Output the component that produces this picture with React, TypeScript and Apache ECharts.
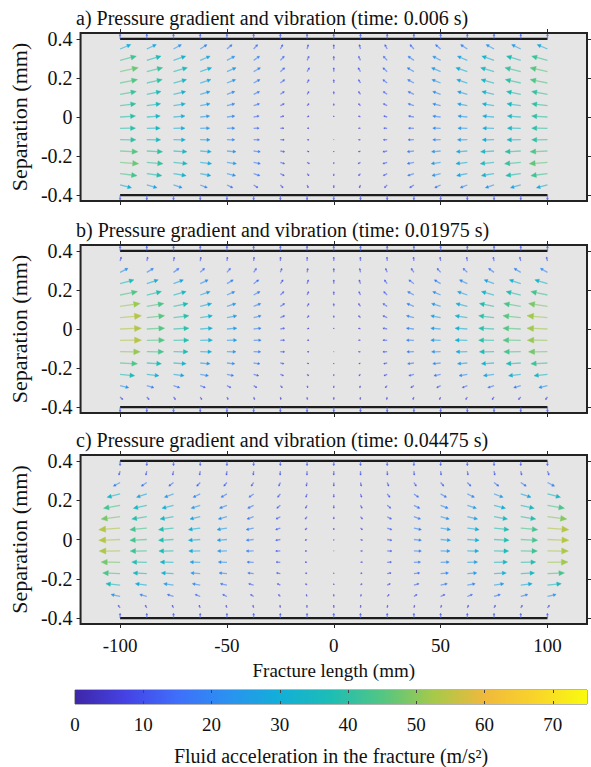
import React, { useEffect, useRef } from "react";
import * as echarts from "echarts";

// ---------------- data ----------------
const X_COLS = [-100, -87.5, -75, -62.5, -50, -37.5, -25, -12.5, 0, 12.5, 25, 37.5, 50, 62.5, 75, 87.5, 100];
const Y_ROWS = [0.348, 0.29, 0.232, 0.174, 0.116, 0.058, 0, -0.058, -0.116, -0.174, -0.232, -0.29, -0.348];
const WALL_Y = [0.4, -0.4];
const WALL_X = [-100, 100];
const X_TICKS = [-100, -50, 0, 50, 100];
const Y_TICKS = [-0.4, -0.2, 0, 0.2, 0.4];
const CB_TICKS = [0, 10, 20, 30, 40, 50, 60, 70];
const CB_MIN = 0;
const CB_MAX = 75;

const TITLE_A = "a) Pressure gradient and vibration (time: 0.006 s)";
const TITLE_B = "b) Pressure gradient and vibration (time: 0.01975 s)";
const TITLE_C = "c) Pressure gradient and vibration (time: 0.04475 s)";
const X_NAME = "Fracture length (mm)";
const Y_NAME = "Separation (mm)";
const CB_NAME = "Fluid acceleration in the fracture (m/s²)";

// horizontal acceleration (m/s^2), rows top -> bottom, columns left -> right
const U_A = [
  [27, 24, 20, 17, 13, 10, 6, 3, 0, -3, -6, -10, -13, -17, -20, -23, -26],
  [41, 36, 31, 25, 20, 15, 10, 5, 0, -5, -10, -15, -20, -25, -31, -36, -40],
  [46, 40, 35, 29, 23, 17, 11, 6, 0, -6, -11, -17, -23, -29, -34, -40, -44],
  [44, 39, 33, 27, 22, 16, 11, 5, 0, -5, -11, -16, -22, -27, -33, -39, -44],
  [41, 36, 31, 25, 20, 15, 10, 5, 0, -5, -10, -15, -20, -25, -31, -36, -40],
  [40, 35, 30, 25, 20, 15, 10, 5, 0, -5, -10, -15, -20, -25, -30, -35, -40],
  [39, 34, 29, 24, 20, 14, 9, 5, 0, -5, -9, -14, -20, -24, -29, -34, -40],
  [39, 34, 29, 24, 20, 14, 9, 5, 0, -5, -9, -14, -20, -24, -29, -34, -40],
  [40, 35, 30, 25, 20, 15, 10, 5, 0, -5, -10, -15, -20, -25, -30, -35, -40],
  [45, 40, 34, 28, 23, 17, 11, 5, 0, -5, -11, -17, -23, -28, -34, -40, -44],
  [47, 41, 35, 29, 24, 17, 11, 6, 0, -6, -11, -17, -24, -29, -35, -41, -46],
  [43, 38, 32, 27, 22, 16, 10, 5, 0, -5, -10, -16, -22, -27, -32, -38, -42],
  [29, 26, 22, 18, 15, 11, 7, 3, 0, -3, -7, -11, -15, -18, -22, -26, -28],
];
const V_A = [11, 10.5, 10, 8.5, 7, 5, 2.5, 0.5, -0.5, -2, -3.5, -5, -7];
const WALL_V_A = [12, -12];

const U_B = [
  [3, 2.5, 2, 1.7, 1.4, 1.1, 0.6, 0.3, 0, -0.3, -0.6, -1.1, -1.4, -1.7, -2, -2.5, -2.5],
  [20, 17, 14, 11, 9, 7, 4, 2, 0, -2, -4, -7, -9, -11, -14, -17, -18],
  [35, 29, 25, 20, 16, 13, 7, 3.5, 0, -3.5, -7, -13, -16, -20, -25, -29, -32],
  [44, 37, 32, 25, 20, 16, 9, 4, 0, -4, -9, -16, -20, -25, -32, -37, -42],
  [51, 43, 37, 29, 23, 18, 11, 5, 0, -5, -11, -18, -23, -29, -37, -43, -48],
  [54, 45, 39, 31, 25, 19, 11, 5, 0, -5, -11, -19, -25, -31, -39, -45, -52],
  [54, 45, 39, 31, 25, 19, 11, 5, 0, -5, -11, -19, -25, -31, -39, -45, -52],
  [54, 45, 39, 31, 25, 19, 11, 5, 0, -5, -11, -19, -25, -31, -39, -45, -51],
  [51, 43, 37, 29, 23, 18, 11, 5, 0, -5, -11, -18, -23, -29, -37, -43, -48],
  [44, 37, 32, 25, 20, 16, 9, 4, 0, -4, -9, -16, -20, -25, -32, -37, -42],
  [37, 31, 27, 21, 17, 13, 8, 4, 0, -4, -8, -13, -17, -21, -27, -31, -34],
  [22, 18, 16, 13, 10, 8, 5, 2, 0, -2, -5, -8, -10, -13, -16, -18, -22],
  [7, 6, 5, 4, 3, 2.5, 1.5, 0.7, 0, -0.7, -1.5, -2.5, -3, -4, -5, -6, -5],
];
const V_B = [10, 10, 9.5, 8.5, 7, 5, 2, 0.5, -0.5, -2, -3.5, -5, -6.5];
const WALL_V_B = [12, -12];

const U_C = [
  [-3, -2.4, -2.1, -1.7, -1.4, -1, -0.7, -0.3, 0, 0.3, 0.7, 1, 1.4, 1.7, 2.1, 2.4, 4],
  [-17, -14, -12, -9, -8, -6, -4, -2, 0, 2, 4, 6, 8, 9, 12, 14, 18],
  [-33, -26, -23, -18, -15, -12, -7, -3, 0, 3, 7, 12, 15, 18, 23, 26, 33],
  [-42, -34, -29, -23, -19, -15, -9, -4, 0, 4, 9, 15, 19, 23, 29, 34, 43],
  [-48, -38, -34, -26, -22, -17, -11, -5, 0, 5, 11, 17, 22, 26, 34, 38, 49],
  [-54, -43, -38, -30, -25, -19, -12, -5, 0, 5, 12, 19, 25, 30, 38, 43, 54],
  [-54, -43, -38, -30, -25, -19, -12, -5, 0, 5, 12, 19, 25, 30, 38, 43, 54],
  [-53, -42, -37, -29, -24, -19, -12, -5, 0, 5, 12, 19, 24, 29, 37, 42, 53],
  [-48, -38, -34, -26, -22, -17, -11, -5, 0, 5, 11, 17, 22, 26, 34, 38, 52],
  [-44, -35, -31, -24, -20, -15, -10, -4, 0, 4, 10, 15, 20, 24, 31, 35, 43],
  [-36, -29, -25, -20, -17, -13, -8, -4, 0, 4, 8, 13, 17, 20, 25, 29, 35],
  [-23, -18, -16, -13, -11, -8, -5, -2, 0, 2, 5, 8, 11, 13, 16, 18, 22],
  [-5, -4, -3.5, -3, -2.3, -1.8, -1.1, -0.5, 0, 0.5, 1.1, 1.8, 2.3, 3, 3.5, 4, 5],
];
const V_C = [-10, -9, -8.5, -7.5, -6, -4, -2, -0.5, 0.5, 2, 3.5, 5, 6.5];
const WALL_V_C = [-12, 12];

// parula-like colormap stops (evenly spaced from CB_MIN to CB_MAX)
const PARULA = [
  "#3e26a8", "#4543e5", "#3f6ffb", "#2a92f0", "#12afd8", "#1dbdb5",
  "#53c683", "#a6c94a", "#f0b93c", "#f9d42a", "#f9fb0e",
];

// ---------------- helpers ----------------
const FONT = '"Liberation Serif", "Times New Roman", Times, serif';
const TEXT = "#111111";
const FS_X = 19;
const FS_TITLE = 20;
const FS_Y = 20;
const FS_YNAME = 22;
const FS_CB = 19;
const FS_CBNAME = 20;
const QX = 0.185; // quiver scale, mm of x per m/s^2
const QY = 0.00205; // quiver scale, mm of y per m/s^2

function hexToRgb(h: string) {
  const n = parseInt(h.slice(1), 16);
  return [(n >> 16) & 255, (n >> 8) & 255, n & 255];
}
function parula(t: number) {
  const tt = Math.max(0, Math.min(1, t));
  const n = PARULA.length - 1;
  const f = tt * n;
  const i = Math.min(Math.floor(f), n - 1);
  const r = f - i;
  const a = hexToRgb(PARULA[i]);
  const b = hexToRgb(PARULA[i + 1]);
  const c = a.map((av, k) => Math.round(av + (b[k] - av) * r));
  return `rgb(${c[0]},${c[1]},${c[2]})`;
}

function buildQuiver(U: number[][], V: number[], W: number[]) {
  const out: number[][] = [];
  Y_ROWS.forEach((y, i) => {
    X_COLS.forEach((x, j) => {
      out.push([x, y, U[i][j], V[i]]);
    });
  });
  WALL_Y.forEach((y, k) => {
    X_COLS.forEach((x) => out.push([x, y, 0, W[k]]));
  });
  return out;
}

const arrowRender = (params: any, api: any) => {
  const x = api.value(0);
  const y = api.value(1);
  const u = api.value(2);
  const v = api.value(3);
  const p0 = api.coord([x, y]);
  const p1 = api.coord([x + u * QX, y + v * QY]);
  const dx = p1[0] - p0[0];
  const dy = p1[1] - p0[1];
  const L = Math.sqrt(dx * dx + dy * dy);
  const color = parula(Math.sqrt(u * u + v * v) / CB_MAX);
  if (L < 0.8) {
    return {
      type: "circle",
      shape: { cx: p0[0], cy: p0[1], r: 0.5 },
      style: { fill: color, opacity: 0.5 },
    };
  }
  const ex = dx / L;
  const ey = dy / L;
  const hl = 0.32 * L;
  const hw = 0.13 * L + 0.3;
  const bx = p1[0] - ex * hl;
  const by = p1[1] - ey * hl;
  return {
    type: "group",
    children: [
      {
        type: "line",
        shape: { x1: p0[0], y1: p0[1], x2: bx, y2: by },
        style: { stroke: color, lineWidth: 1.3, opacity: 0.6 },
      },
      {
        type: "polygon",
        shape: {
          points: [
            [p1[0], p1[1]],
            [bx - ey * hw, by + ex * hw],
            [bx + ey * hw, by - ex * hw],
          ],
        },
        style: { fill: color, stroke: color, lineWidth: 0.4 },
      },
    ],
  };
};

const cbRender = (params: any, api: any) => {
  const p0 = api.coord([api.value(0), 0]);
  const p1 = api.coord([api.value(1), 1]);
  return {
    type: "rect",
    shape: { x: p0[0], y: p1[1], width: p1[0] - p0[0], height: p0[1] - p1[1] },
    style: {
      fill: new echarts.graphic.LinearGradient(
        0, 0, 1, 0,
        PARULA.map((c, i) => ({ offset: i / (PARULA.length - 1), color: c }))
      ),
    },
  };
};

const PANELS = [
  { title: TITLE_A, top: 33, height: 168, U: U_A, V: V_A, W: WALL_V_A },
  { title: TITLE_B, top: 245, height: 168, U: U_B, V: V_B, W: WALL_V_B },
  { title: TITLE_C, top: 455, height: 169, U: U_C, V: V_C, W: WALL_V_C },
];

function buildOption() {
  const grid: any[] = [];
  const xAxis: any[] = [];
  const yAxis: any[] = [];
  const series: any[] = [];
  const title: any[] = [];
  const tickStyle = { color: "#262626", width: 1 };
  const xLabelStyle = { fontFamily: FONT, fontSize: FS_X, color: TEXT };

  PANELS.forEach((p, i) => {
    grid.push({
      left: 75, right: 4, top: p.top, height: p.height,
      show: true, backgroundColor: "#e5e5e5", borderColor: "#232323", borderWidth: 2,
    });
    title.push({
      text: p.title, left: 76, top: p.top - 25, padding: 0,
      textStyle: { fontFamily: FONT, fontSize: FS_TITLE, fontWeight: "normal", color: TEXT },
    });
    const isLast = i === PANELS.length - 1;
    ["bottom", "top"].forEach((pos) => {
      xAxis.push({
        type: "value", gridIndex: i, position: pos, min: -118.5, max: 118.5,
        axisLine: { show: false, onZero: false }, splitLine: { show: false },
        axisTick: { show: true, inside: false, length: 4, customValues: X_TICKS, lineStyle: tickStyle },
        axisLabel: {
          show: isLast && pos === "bottom", customValues: X_TICKS, margin: 12,
          formatter: (v: number) => String(v), ...xLabelStyle,
        },
        name: isLast && pos === "bottom" ? X_NAME : "",
        nameLocation: "middle", nameGap: 37, nameTextStyle: xLabelStyle,
      });
    });
    ["left", "right"].forEach((pos) => {
      yAxis.push({
        type: "value", gridIndex: i, position: pos, min: -0.43, max: 0.43,
        axisLine: { show: false, onZero: false }, splitLine: { show: false },
        axisTick: { show: true, inside: false, length: 4, customValues: Y_TICKS, lineStyle: tickStyle },
        axisLabel: {
          show: pos === "left", customValues: Y_TICKS, margin: 8,
          formatter: (v: number) => String(Math.round(v * 10) / 10),
          fontFamily: FONT, fontSize: FS_Y, color: TEXT,
        },
        name: pos === "left" ? Y_NAME : "",
        nameLocation: "middle", nameGap: 41,
        nameTextStyle: { fontFamily: FONT, fontSize: FS_YNAME, color: TEXT },
      });
    });
    const xi = i * 2;
    const yi = i * 2;
    WALL_Y.forEach((wy) => {
      series.push({
        type: "line", xAxisIndex: xi, yAxisIndex: yi, silent: true, z: 1,
        symbol: "none", lineStyle: { color: "#1c1c1c", width: 2.2 },
        data: WALL_X.map((wx) => [wx, wy]),
      });
    });
    series.push({
      type: "custom", xAxisIndex: xi, yAxisIndex: yi, silent: true, z: 2, clip: false,
      renderItem: arrowRender,
      data: buildQuiver(p.U, p.V, p.W),
    });
  });

  // colorbar
  const ci = PANELS.length;
  grid.push({ left: 75, right: 4, top: 690, height: 15, show: true, borderColor: "#6b6b6b", borderWidth: 1, backgroundColor: "transparent" });
  ["bottom", "top"].forEach((pos) => {
    xAxis.push({
      type: "value", gridIndex: ci, position: pos, min: CB_MIN, max: CB_MAX, z: 10,
      axisLine: { show: false, onZero: false }, splitLine: { show: false },
      axisTick: { show: true, inside: true, length: 3, customValues: CB_TICKS, lineStyle: { color: "#444", width: 1 } },
      axisLabel: {
        show: pos === "bottom", customValues: CB_TICKS, margin: 11,
        fontFamily: FONT, fontSize: FS_CB, color: TEXT,
      },
      name: pos === "bottom" ? CB_NAME : "",
      nameLocation: "middle", nameGap: 42,
      nameTextStyle: { fontFamily: FONT, fontSize: FS_CBNAME, color: TEXT },
    });
  });
  yAxis.push({ type: "value", gridIndex: ci, min: 0, max: 1, show: false });
  series.push({
    type: "custom", xAxisIndex: PANELS.length * 2, yAxisIndex: PANELS.length * 2, silent: true,
    renderItem: cbRender, data: [[CB_MIN, CB_MAX]], z: 1,
  });

  return { animation: false, backgroundColor: "#ffffff", title, grid, xAxis, yAxis, series };
}

export default function App() {
  const ref = useRef<HTMLDivElement>(null);
  useEffect(() => {
    if (!ref.current) return;
    const chart = echarts.init(ref.current, undefined, { renderer: "svg" });
    chart.setOption(buildOption() as any);
    return () => chart.dispose();
  }, []);
  return (
    <div
      ref={ref}
      style={{ position: "fixed", left: 0, top: 0, width: 591, height: 767, background: "#fff" }}
    />
  );
}
